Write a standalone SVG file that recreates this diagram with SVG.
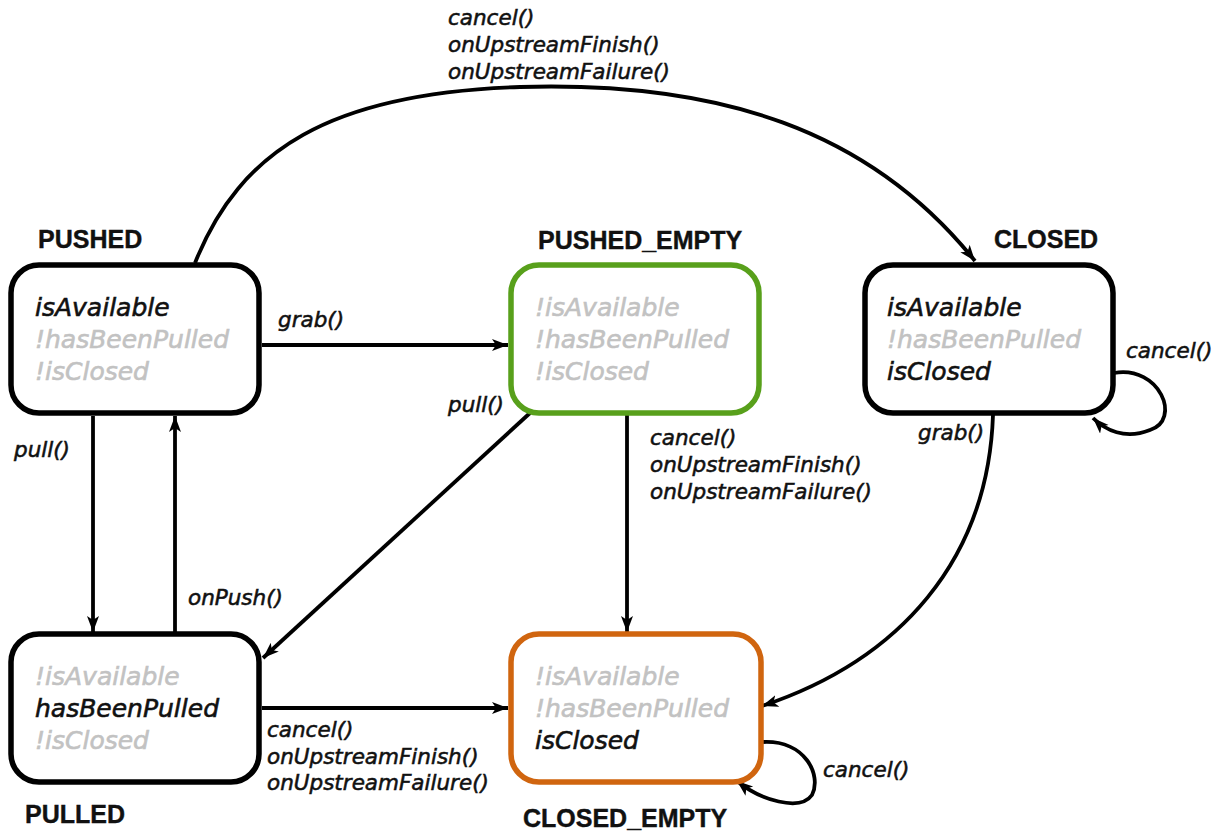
<svg xmlns="http://www.w3.org/2000/svg" width="1218" height="832" viewBox="0 0 1218 832">
<style>
.box{fill:#fff;stroke:#000;stroke-width:5.5}
.title{font-family:"Liberation Sans",Arial,sans-serif;font-weight:bold;font-size:25px;fill:#111;stroke:#111;stroke-width:0.4}
.st{font-family:"DejaVu Sans",sans-serif;font-style:italic;font-size:25px;stroke-width:0.6}
.on{fill:#111;stroke:#111}
.off{fill:#c2c2c2;stroke:#c2c2c2}
.lbl{font-family:"DejaVu Sans",sans-serif;font-style:italic;font-size:21.5px;fill:#111;stroke:#111;stroke-width:0.55}
.edge{fill:none;stroke:#000;stroke-width:3.8}
</style>
<defs>
<marker id="arr" markerUnits="userSpaceOnUse" markerWidth="18" markerHeight="14" refX="16" refY="6" orient="auto">
<path d="M0,0 L16,6 L0,12 L4,6 Z" fill="#000"/>
</marker>
</defs>
<rect width="1218" height="832" fill="#fff"/>

<g id="connectors">
<path class="edge" marker-end="url(#arr)" d="M195,263 C240,150 330,93 520,87 C720,81 870,130 975,261"/>
<path class="edge" marker-end="url(#arr)" d="M262,345 L508,345"/>
<path class="edge" marker-end="url(#arr)" d="M93,416 L93,632"/>
<path class="edge" marker-end="url(#arr)" d="M175,632 L175,416"/>
<path class="edge" marker-end="url(#arr)" d="M530,413 L263,658"/>
<path class="edge" marker-end="url(#arr)" d="M627,414 L627,632"/>
<path class="edge" marker-end="url(#arr)" d="M262,708 L508,708"/>
<path class="edge" marker-end="url(#arr)" d="M993,415 C988,560 900,660 762,706"/>
<path class="edge" marker-end="url(#arr)" d="M1114,373 C1160,365 1182,420 1150,430 C1125,440 1105,430 1093,418"/>
<path class="edge" marker-end="url(#arr)" d="M763,742 C805,740 822,775 812,795 C800,812 760,800 737,781"/>
<g class="lbl">
<text x="448" y="25">cancel()</text>
<text x="448" y="52">onUpstreamFinish()</text>
<text x="448" y="79">onUpstreamFailure()</text>
<text x="278" y="327">grab()</text>
<text x="14" y="457">pull()</text>
<text x="188" y="605">onPush()</text>
<text x="448" y="412">pull()</text>
<text x="650" y="445">cancel()</text>
<text x="650" y="472">onUpstreamFinish()</text>
<text x="650" y="499">onUpstreamFailure()</text>
<text x="267" y="737">cancel()</text>
<text x="267" y="764">onUpstreamFinish()</text>
<text x="267" y="790">onUpstreamFailure()</text>
<text x="918" y="440">grab()</text>
<text x="1126" y="358">cancel()</text>
<text x="823" y="777">cancel()</text>
</g>
</g>

<g id="PUSHED">
<text class="title" x="38" y="248">PUSHED</text>
<rect class="box" x="11" y="265" width="248" height="148" rx="28"/>
<text class="st on" x="35" y="316">isAvailable</text>
<text class="st off" x="35" y="348">!hasBeenPulled</text>
<text class="st off" x="35" y="380">!isClosed</text>
</g>

<g id="PUSHED_EMPTY">
<text class="title" x="538" y="249">PUSHED_EMPTY</text>
<rect class="box" x="511" y="265" width="248" height="148" rx="28" style="stroke:#58a01b"/>
<text class="st off" x="535" y="316">!isAvailable</text>
<text class="st off" x="535" y="348">!hasBeenPulled</text>
<text class="st off" x="535" y="380">!isClosed</text>
</g>

<g id="CLOSED">
<text class="title" x="994" y="248">CLOSED</text>
<rect class="box" x="865" y="265" width="248" height="148" rx="28"/>
<text class="st on" x="887" y="316">isAvailable</text>
<text class="st off" x="887" y="348">!hasBeenPulled</text>
<text class="st on" x="887" y="380">isClosed</text>
</g>

<g id="PULLED">
<rect class="box" x="11" y="634" width="248" height="148" rx="28"/>
<text class="st off" x="35" y="685">!isAvailable</text>
<text class="st on" x="35" y="717">hasBeenPulled</text>
<text class="st off" x="35" y="749">!isClosed</text>
<text class="title" x="25" y="823">PULLED</text>
</g>

<g id="CLOSED_EMPTY">
<rect class="box" x="511" y="634" width="250" height="148" rx="28" style="stroke:#d0650f"/>
<text class="st off" x="535" y="685">!isAvailable</text>
<text class="st off" x="535" y="717">!hasBeenPulled</text>
<text class="st on" x="535" y="749">isClosed</text>
<text class="title" x="523" y="827">CLOSED_EMPTY</text>
</g>
</svg>
